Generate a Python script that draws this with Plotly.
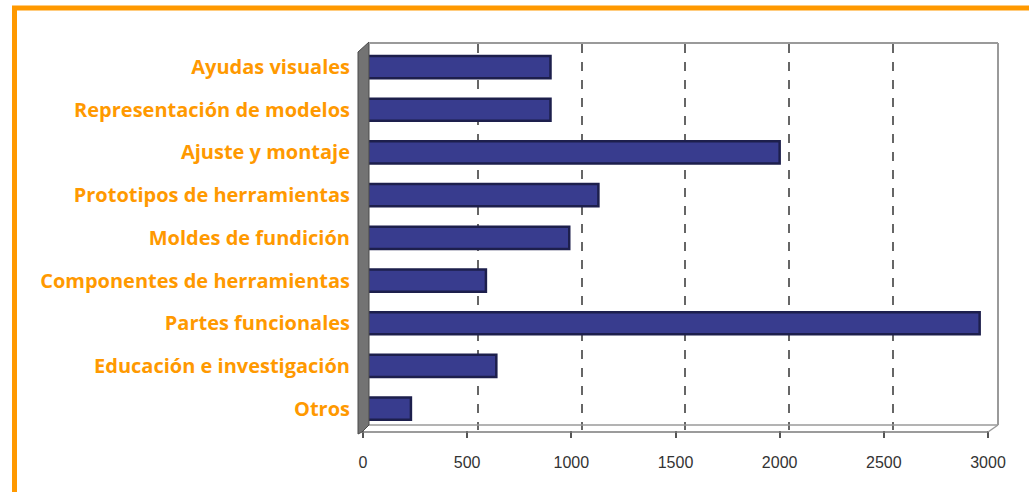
import plotly.graph_objects as go

categories = [
    "Ayudas visuales",
    "Representación de modelos",
    "Ajuste y montaje",
    "Prototipos de herramientas",
    "Moldes de fundición",
    "Componentes de herramientas",
    "Partes funcionales",
    "Educación e investigación",
    "Otros",
]
values = [900, 900, 2000, 1130, 990, 590, 2960, 640, 230]
x_ticks = [0, 500, 1000, 1500, 2000, 2500, 3000]
x_tick_labels = ["0", "500", "1000", "1500", "2000", "2500", "3000"]
grid_ticks = [500, 1000, 1500, 2000, 2500]

W, H = 1029, 492
L, R, T, B = 362, 31, 44, 62
PW, PH = W - L - R, H - T - B


def px(x):
    return (x - L) / PW


def py(y):
    return (H - B - y) / PH


ORANGE = "#FF9900"

fig = go.Figure()
fig.add_trace(go.Bar(
    x=values, y=categories, orientation="h",
    marker=dict(color="#383C8E", line=dict(color="#1D1F4C", width=2.5)),
    hoverinfo="x+y", showlegend=False,
))
# helper trace so the back-wall grid axis is rendered
fig.add_trace(go.Scatter(
    x=[0], y=[categories[0]], xaxis="x2", mode="markers",
    marker=dict(opacity=0), hoverinfo="skip", showlegend=False,
))

shapes = []
# orange frame
shapes.append(dict(type="rect", xref="paper", yref="paper",
                   x0=px(14.5), x1=px(W + 20), y0=py(8), y1=py(H + 20),
                   line=dict(color=ORANGE, width=5), layer="below"))
# back wall top and right edges
shapes.append(dict(type="line", xref="paper", yref="paper",
                   x0=px(370), x1=px(998), y0=py(43), y1=py(43),
                   line=dict(color="#9a9a9a", width=2)))
shapes.append(dict(type="line", xref="paper", yref="paper",
                   x0=px(998), x1=px(998), y0=py(43), y1=py(425),
                   line=dict(color="#9a9a9a", width=2)))
# floor back edge
shapes.append(dict(type="line", xref="paper", yref="paper",
                   x0=px(366), x1=px(998), y0=py(425), y1=py(425),
                   line=dict(color="#9a9a9a", width=1.5)))
# floor front edge and right slant
shapes.append(dict(type="line", xref="paper", yref="paper",
                   x0=px(362), x1=px(988), y0=py(432), y1=py(432),
                   line=dict(color="#7a7a7a", width=1.5)))
shapes.append(dict(type="line", xref="paper", yref="paper",
                   x0=px(988), x1=px(998), y0=py(432), y1=py(425),
                   line=dict(color="#9a9a9a", width=1.5)))
# left wall (3D side)
shapes.append(dict(type="path", xref="paper", yref="paper",
                   path=(f"M {px(358)},{py(52)} L {px(369)},{py(42)} "
                         f"L {px(369)},{py(425)} L {px(362)},{py(432)} "
                         f"L {px(358)},{py(434)} Z"),
                   fillcolor="#737373", line=dict(color="#4a4a4a", width=1),
                   layer="above"))

fig.update_layout(
    width=W, height=H,
    margin=dict(l=L, r=R, t=T, b=B, pad=0),
    paper_bgcolor="white", plot_bgcolor="white",
    bargap=0.48,
    xaxis=dict(
        range=[(L - 363) / 0.20833, (L + PW - 363) / 0.20833],
        tickvals=x_ticks, ticktext=x_tick_labels,
        showgrid=False, zeroline=False, showline=False,
        ticks="outside", ticklen=7, tickcolor="#555", tickwidth=1.5,
        tickfont=dict(family="Liberation Sans Narrow, Liberation Sans",
                      size=16, color="#333"),
        ticklabelstandoff=11,
    ),
    xaxis2=dict(
        overlaying="x", side="bottom",
        range=[(L - 374) / 0.2075, (L + PW - 374) / 0.2075],
        tickvals=grid_ticks, showticklabels=False, ticks="",
        showgrid=True, gridcolor="#666", gridwidth=1.5, griddash="dash",
        zeroline=False, showline=False,
    ),
    yaxis=dict(
        autorange="reversed", showgrid=False, zeroline=False,
        ticks="", ticklabelstandoff=11,
        tickfont=dict(family="Open Sans", size=20, color=ORANGE, weight="bold"),
    ),
    shapes=shapes,
)

fig.write_html("out.html")
